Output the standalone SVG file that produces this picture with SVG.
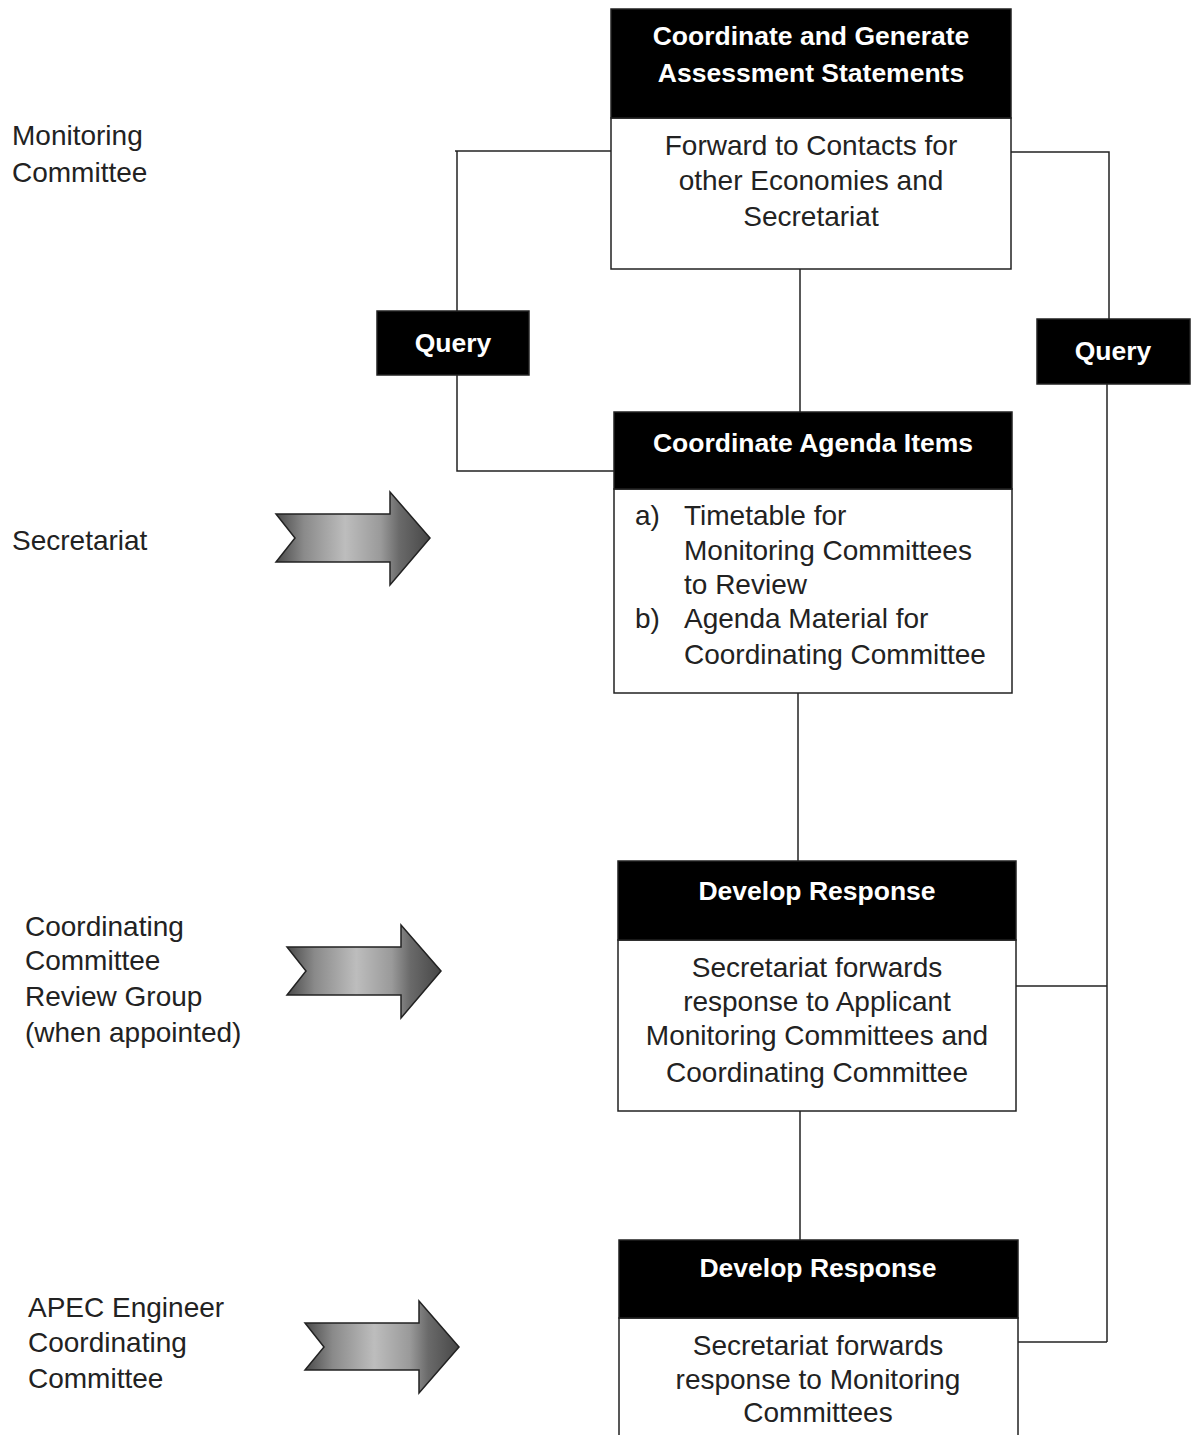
<svg xmlns="http://www.w3.org/2000/svg" width="1191" height="1435" viewBox="0 0 1191 1435">
  <style>
    .hdr { fill: #000; stroke: #222; stroke-width: 1.5; }
    .body { fill: #fff; stroke: #222; stroke-width: 1.5; }
    .ht { font-family: "Liberation Sans", Arial, sans-serif; font-weight: bold; font-size: 26.5px; fill: #fff; text-anchor: middle; }
    .bt { font-family: "Liberation Sans", Arial, sans-serif; font-size: 28px; fill: #222; text-anchor: middle; }
    .lt { font-family: "Liberation Sans", Arial, sans-serif; font-size: 28px; fill: #222; }
    .wire { fill: none; stroke: #222; stroke-width: 1.5; }
    .arrow { fill: url(#steel); stroke: #222; stroke-width: 1.5; stroke-linejoin: miter; }
  </style>
  <defs>
    <linearGradient id="steel" x1="0" y1="0" x2="1" y2="0">
      <stop offset="0" stop-color="#4a4a4a"/>
      <stop offset="0.18" stop-color="#8a8a8a"/>
      <stop offset="0.45" stop-color="#bdbdbd"/>
      <stop offset="0.68" stop-color="#9a9a9a"/>
      <stop offset="0.8" stop-color="#6a6a6a"/>
      <stop offset="1" stop-color="#474747"/>
    </linearGradient>
  </defs>
  <rect width="1191" height="1435" fill="#fff"/>

  <!-- connectors -->
  <g id="connectors">
    <path class="wire" d="M455 151 H611"/>
    <path class="wire" d="M457 151 V311"/>
    <path class="wire" d="M457 375 V471 H614"/>
    <path class="wire" d="M1011 152 H1109 V319"/>
    <path class="wire" d="M1107 384 V1342"/>
    <path class="wire" d="M1013 986 H1107"/>
    <path class="wire" d="M1018 1342 H1107"/>
    <path class="wire" d="M800 269 V412"/>
    <path class="wire" d="M798 693 V861"/>
    <path class="wire" d="M800 1111 V1240"/>
  </g>

  <!-- row labels -->
  <g id="label-monitoring">
    <text class="lt" x="12" y="145">Monitoring</text>
    <text class="lt" x="12" y="182">Committee</text>
  </g>
  <g id="label-secretariat">
    <text class="lt" x="12" y="550">Secretariat</text>
  </g>
  <g id="label-review-group">
    <text class="lt" x="25" y="936">Coordinating</text>
    <text class="lt" x="25" y="970">Committee</text>
    <text class="lt" x="25" y="1006">Review Group</text>
    <text class="lt" x="25" y="1042">(when appointed)</text>
  </g>
  <g id="label-apec">
    <text class="lt" x="28" y="1317">APEC Engineer</text>
    <text class="lt" x="28" y="1352">Coordinating</text>
    <text class="lt" x="28" y="1388">Committee</text>
  </g>

  <!-- block arrows -->
  <g id="arrow-secretariat">
    <polygon class="arrow" points="276,514 390,514 390,492 430,538 390,585 390,562 276,562 295,538"/>
  </g>
  <g id="arrow-review-group">
    <polygon class="arrow" points="287,947 401,947 401,925 441,971 401,1018 401,995 287,995 306,971"/>
  </g>
  <g id="arrow-apec">
    <polygon class="arrow" points="305,1323 419,1323 419,1301 459,1347 419,1393 419,1370 305,1370 324,1347"/>
  </g>

  <!-- query boxes -->
  <g id="query-left">
    <rect class="hdr" x="377" y="311" width="152" height="64"/>
    <text class="ht" x="453" y="352">Query</text>
  </g>
  <g id="query-right">
    <rect class="hdr" x="1037" y="319" width="153" height="65"/>
    <text class="ht" x="1113" y="360">Query</text>
  </g>

  <!-- process boxes -->
  <g id="assessment-statements">
    <rect class="body" x="611" y="118" width="400" height="151"/>
    <rect class="hdr" x="611" y="9" width="400" height="109"/>
    <text class="ht" x="811" y="45">Coordinate and Generate</text>
    <text class="ht" x="811" y="82">Assessment Statements</text>
    <text class="bt" x="811" y="155">Forward to Contacts for</text>
    <text class="bt" x="811" y="190">other Economies and</text>
    <text class="bt" x="811" y="226">Secretariat</text>
  </g>

  <g id="agenda-items">
    <rect class="body" x="614" y="489" width="398" height="204"/>
    <rect class="hdr" x="614" y="412" width="398" height="77"/>
    <text class="ht" x="813" y="452">Coordinate Agenda Items</text>
    <text class="lt" x="635" y="525">a)</text>
    <text class="lt" x="684" y="525">Timetable for</text>
    <text class="lt" x="684" y="560">Monitoring Committees</text>
    <text class="lt" x="684" y="594">to Review</text>
    <text class="lt" x="635" y="628">b)</text>
    <text class="lt" x="684" y="628">Agenda Material for</text>
    <text class="lt" x="684" y="664">Coordinating Committee</text>
  </g>

  <g id="response-review">
    <rect class="body" x="618" y="940" width="398" height="171"/>
    <rect class="hdr" x="618" y="861" width="398" height="79"/>
    <text class="ht" x="817" y="900">Develop Response</text>
    <text class="bt" x="817" y="977">Secretariat forwards</text>
    <text class="bt" x="817" y="1011">response to Applicant</text>
    <text class="bt" x="817" y="1045">Monitoring Committees and</text>
    <text class="bt" x="817" y="1082">Coordinating Committee</text>
  </g>

  <g id="response-apec">
    <rect class="body" x="619" y="1318" width="399" height="130"/>
    <rect class="hdr" x="619" y="1240" width="399" height="78"/>
    <text class="ht" x="818" y="1277">Develop Response</text>
    <text class="bt" x="818" y="1355">Secretariat forwards</text>
    <text class="bt" x="818" y="1389">response to Monitoring</text>
    <text class="bt" x="818" y="1422">Committees</text>
  </g>
</svg>
